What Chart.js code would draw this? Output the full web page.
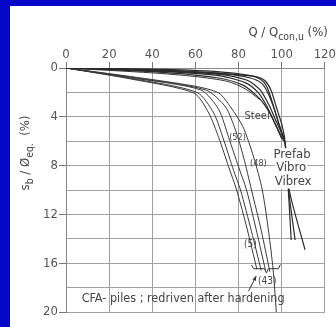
<!DOCTYPE html>
<html>
<head>
<meta charset="utf-8">
<script src="https://cdn.jsdelivr.net/npm/chart.js@4.4.0/dist/chart.umd.min.js"></script>
<style>
  html, body { margin: 0; padding: 0; }
  body { width: 336px; height: 327px; background: #0707c8; position: relative; overflow: hidden; }
  #wrap { position: absolute; left: 10px; top: 6px; width: 326px; height: 321px; background: #fff; }
</style>
</head>
<body>
<div id="wrap"><canvas id="chart" width="326" height="321"></canvas></div>
<script>
// axis ticks
const xTicks = [0, 20, 40, 60, 80, 100, 120];
const yTicks = [0, 4, 8, 12, 16, 20];

// Prefab / Vibro / Vibrex piles  [Q/Qcon,u %, sb/Deq %]
const prefab1 = [[0,0],[40,0.1],[70,0.3],[85,0.6],[90,0.9],[93,1.5],[96,3],[99,4.8],[101.5,6],[103,9.8],[104.4,14.1]];
const prefab2 = [[0,0],[40,0.15],[70,0.4],[85,0.8],[91,1.3],[94,2.2],[97,3.6],[100,5.3],[101.5,6.1],[103.2,10],[106.2,14.1]];
const prefab3 = [[0,0],[40,0.2],[70,0.5],[84,1.0],[90,1.8],[94,3.0],[97,4.2],[101.5,6.1],[103.5,10],[110.8,14.9]];
const prefab4 = [[0,0],[40,0.25],[70,0.6],[83,1.2],[89,2.0],[93,3.1],[97,4.6],[101,6.0]];
const prefab5 = [[0,0],[40,0.3],[70,0.8],[82,1.4],[88,2.2],[92,3.0],[96,4.2],[100,5.8]];
const prefab6 = [[0,0],[40,0.2],[75,0.5],[88,0.7],[92,1.0],[95,1.8],[97.5,3.2],[100,4.6],[101.5,5.8]];

// steel pile
const steel = [[0,0],[40,0.4],[60,0.7],[75,1.1],[83,1.7],[90,2.6]];

// CFA piles, redriven after hardening
const cfaA = [[0,0],[30,0.9],[59.3,2.05],[66.2,3.7],[70.8,5.7],[75.4,8.1],[79.1,10],[84,13.2],[88.5,16.5]];
const cfaB = [[0,0],[30,0.85],[60.7,2.0],[68.5,3.7],[73.1,5.9],[77.7,8.4],[80.9,10],[86,13.4],[90.5,16.6]];
const cfaC = [[0,0],[30,0.8],[62.5,1.8],[70.8,3.4],[75.4,5.7],[80,8.1],[83.7,10],[88.5,13.5],[92.5,16.6]];
const cfaD = [[0,0],[30,0.75],[64.8,1.8],[74,3.2],[78.6,5.1],[82.3,7.3],[86,10],[90.5,13.3],[94.5,16.7]];
const cfaE = [[0,0],[30,0.7],[60,1.5],[70.8,2.05],[76.3,3.2],[82,4.8],[87,7.3],[91,10],[94,13.5],[96,16.5],[97.5,20]];

const prefabCurves = [prefab1, prefab2, prefab3, prefab4, prefab5, prefab6];
const cfaCurves = [cfaA, cfaB, cfaC, cfaD, cfaE];

const notes = [
  { text: "Steel", x: 88.6, y: 3.95, size: 11, bg: false },
  { text: "Prefab", x: 104.8, y: 7.1, size: 13, bg: true },
  { text: "Vibro", x: 104.4, y: 8.2, size: 13, bg: true },
  { text: "Vibrex", x: 105.3, y: 9.35, size: 13, bg: true },
  { text: "(52)", x: 79.5, y: 5.74, size: 9, bg: false },
  { text: "(48)", x: 89.2, y: 7.8, size: 9, bg: false },
  { text: "(5)", x: 85.5, y: 14.5, size: 10, bg: false },
  { text: "(43)", x: 93.3, y: 17.5, size: 10, bg: false },
  { text: "CFA- piles ; redriven after hardening", x: 54.3, y: 18.93, size: 12.5, bg: false }
];

const FONT = "'DejaVu Sans Condensed', 'DejaVu Sans', sans-serif";

function toXY(arr) { return arr.map(p => ({ x: p[0], y: p[1] })); }

let datasets = [];
prefabCurves.forEach(c => datasets.push({ data: toXY(c), borderColor: "#2a2a2a", borderWidth: 1.2 }));
datasets.push({ data: toXY(steel), borderColor: "#333", borderWidth: 1 });
cfaCurves.forEach(c => datasets.push({ data: toXY(c), borderColor: "#3a3a3a", borderWidth: 1 }));
datasets.forEach(d => { d.showLine = true; d.pointRadius = 0; d.tension = 0.25; d.fill = false; });

function richText(ctx, parts, x, y, size) {
  // parts: [text, isSub]
  let cx = x;
  parts.forEach(p => {
    ctx.font = (p[1] ? size * 0.8 : size) + "px " + FONT;
    ctx.fillText(p[0], cx, p[1] ? y + 4 : y);
    cx += ctx.measureText(p[0]).width;
  });
  return cx - x;
}
function richWidth(ctx, parts, size) {
  let w = 0;
  parts.forEach(p => {
    ctx.font = (p[1] ? size * 0.8 : size) + "px " + FONT;
    w += ctx.measureText(p[0]).width;
  });
  return w;
}

const extras = {
  id: "extras",
  afterDraw(chart) {
    const ctx = chart.ctx;
    const xs = chart.scales.x, ys = chart.scales.y;
    const area = chart.chartArea;
    ctx.save();
    ctx.strokeStyle = "#333";
    ctx.textBaseline = "middle";
    ctx.textAlign = "center";
    notes.forEach(n => {
      ctx.font = n.size + "px " + FONT;
      const px = xs.getPixelForValue(n.x), py = ys.getPixelForValue(n.y);
      if (n.bg) {
        const w = ctx.measureText(n.text).width;
        ctx.fillStyle = "#fff";
        ctx.fillRect(px - w / 2 - 1, py - n.size / 2, w + 2, n.size);
      }
      ctx.fillStyle = "#444";
      ctx.fillText(n.text, px, py);
    });

    // x axis title
    ctx.textAlign = "left";
    ctx.textBaseline = "alphabetic";
    const xt = [["Q / Q", false], ["con,u", true], [" (%)", false]];
    const wx = richWidth(ctx, xt, 13);
    richText(ctx, xt, area.right + 3 - wx, area.top - 32, 13);

    // y axis title
    const yt = [["s", false], ["b", true], [" / Ø", false], ["eq.", true], ["  (%)", false]];
    const wy = richWidth(ctx, yt, 13);
    ctx.translate(19, 147);
    ctx.rotate(-Math.PI / 2);
    richText(ctx, yt, -wy / 2, 0, 13);
    ctx.setTransform(1, 0, 0, 1, 0, 0);

    // bracket under the CFA curves
    const P = (x, y) => [xs.getPixelForValue(x), ys.getPixelForValue(y)];
    ctx.lineWidth = 1;
    ctx.beginPath();
    let p = P(86, 16.15); ctx.moveTo(p[0], p[1]);
    p = P(87, 16.45); ctx.lineTo(p[0], p[1]);
    p = P(92, 16.45); ctx.lineTo(p[0], p[1]);
    p = P(92.9, 16.8); ctx.lineTo(p[0], p[1]);
    p = P(93.8, 16.45); ctx.lineTo(p[0], p[1]);
    p = P(98.5, 16.45); ctx.lineTo(p[0], p[1]);
    p = P(99.4, 16.1); ctx.lineTo(p[0], p[1]);
    ctx.stroke();

    // arrow from the text to the bracket
    const a = P(84.6, 18.3), b = P(88.2, 17.05);
    ctx.beginPath(); ctx.moveTo(a[0], a[1]); ctx.lineTo(b[0], b[1]); ctx.stroke();
    const ang = Math.atan2(b[1] - a[1], b[0] - a[0]);
    ctx.fillStyle = "#333";
    ctx.beginPath();
    ctx.moveTo(b[0], b[1]);
    ctx.lineTo(b[0] - 5 * Math.cos(ang - 0.4), b[1] - 5 * Math.sin(ang - 0.4));
    ctx.lineTo(b[0] - 5 * Math.cos(ang + 0.4), b[1] - 5 * Math.sin(ang + 0.4));
    ctx.closePath();
    ctx.fill();
    ctx.restore();
  }
};

new Chart(document.getElementById("chart").getContext("2d"), {
  type: "scatter",
  data: { datasets: datasets },
  options: {
    responsive: false,
    animation: false,
    devicePixelRatio: 1,
    layout: { padding: { left: 0, right: 9, top: 0, bottom: 15 } },
    plugins: { legend: { display: false }, tooltip: { enabled: false } },
    scales: {
      x: {
        type: "linear",
        position: "top",
        min: 0, max: 120,
        afterBuildTicks: s => { s.ticks = xTicks.map(v => ({ value: v })); },
        afterFit: s => { s.height = 62; },
        ticks: { color: "#555", font: { family: FONT, size: 13 }, padding: 0, maxRotation: 0 },
        grid: { color: "#a0a0a0", lineWidth: 1, tickLength: 6, tickColor: "#777" },
        border: { color: "#888" }
      },
      y: {
        type: "linear",
        reverse: true,
        min: 0, max: 20,
        ticks: {
          stepSize: 2,
          color: "#555",
          font: { family: FONT, size: 13 },
          padding: 1,
          callback: v => yTicks.includes(v) ? v : ""
        },
        afterFit: s => { s.width = 56; },
        grid: {
          color: "#a0a0a0", lineWidth: 1, tickLength: 7,
          tickColor: c => yTicks.includes(c.tick.value) ? "#777" : "rgba(0,0,0,0)"
        },
        border: { color: "#888" }
      }
    }
  },
  plugins: [extras]
});
</script>
</body>
</html>
